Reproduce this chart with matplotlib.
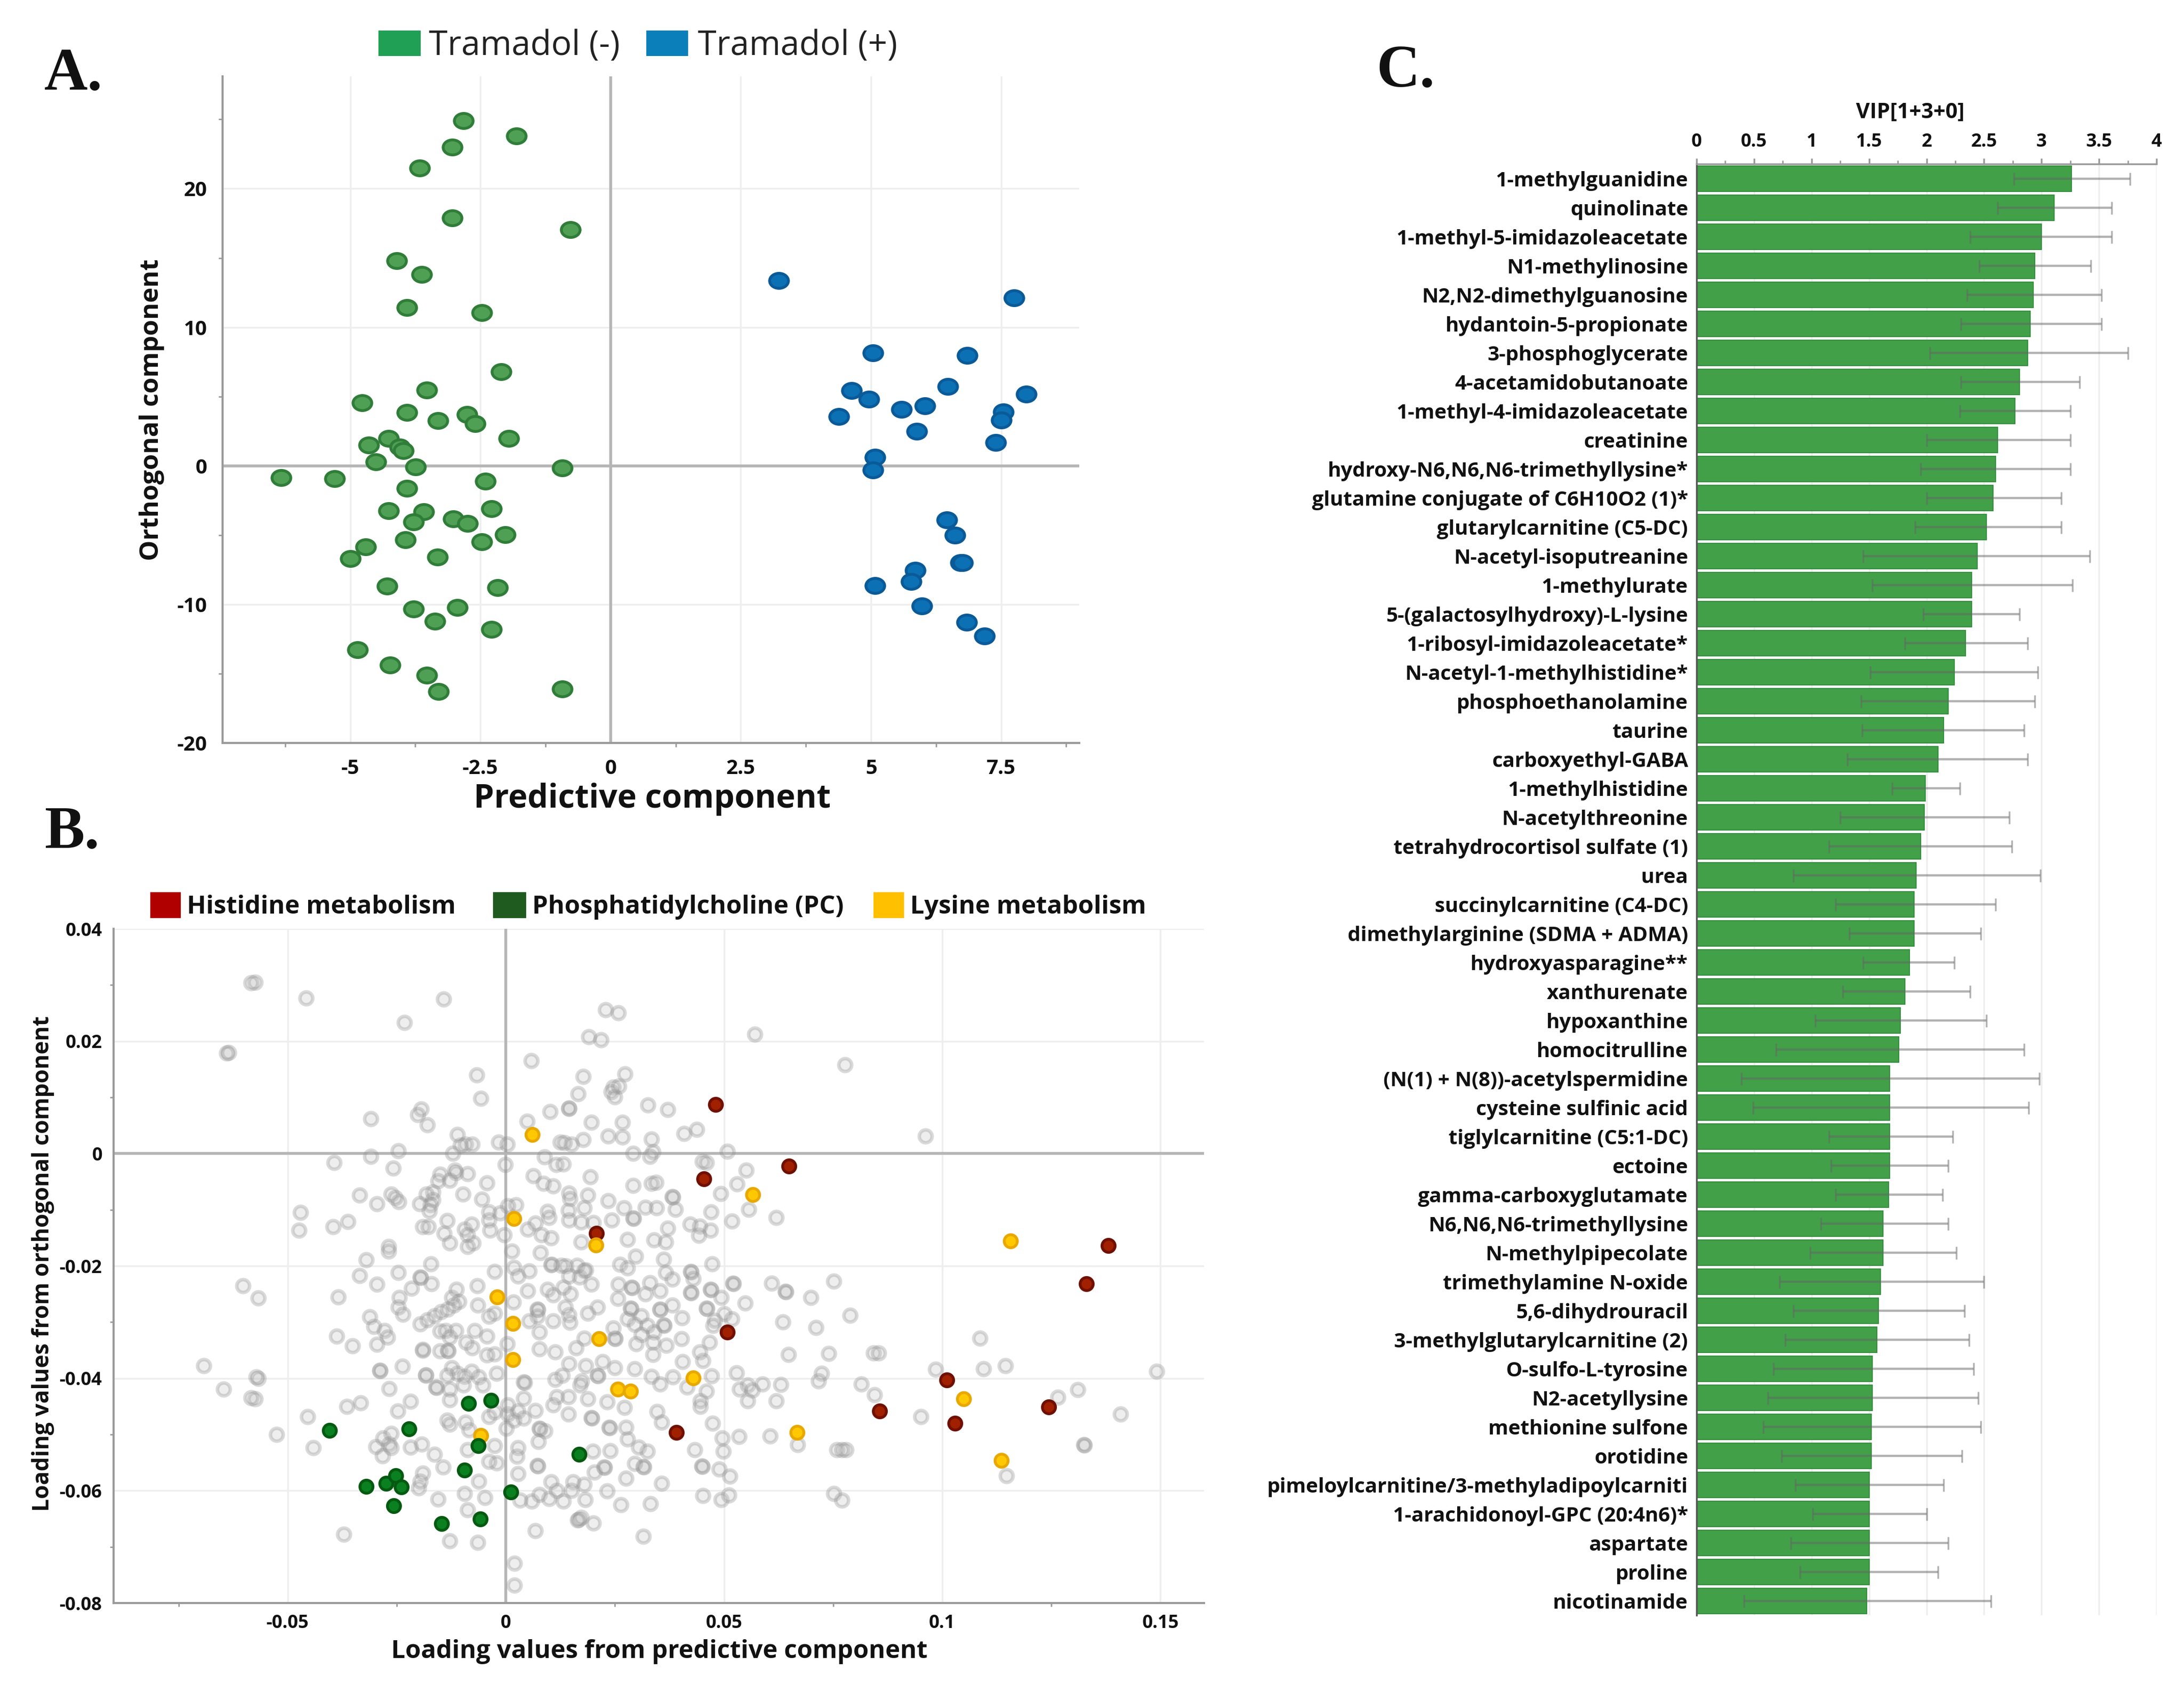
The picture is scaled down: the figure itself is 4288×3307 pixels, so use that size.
import numpy as np
import matplotlib
matplotlib.use("Agg")
import matplotlib.pyplot as plt
from matplotlib.markers import MarkerStyle
from matplotlib.patches import Rectangle
from matplotlib.ticker import MultipleLocator
from matplotlib.transforms import Affine2D

W, H = 4288, 3307

# Panel A scores
neg_x = [-2.82, -1.81, -3.04, -3.67, -3.04, -0.77, -4.11, -3.63, -3.91, -2.47, -2.10, -3.53, -4.77, -3.91, -3.31, -2.76, -2.60, -1.95, -4.26, -4.64, -4.05, -3.98, -4.51, -3.74, -0.93, -6.33, -5.30, -2.40, -3.91, -2.29, -4.26, -3.59, -3.78, -3.02, -2.75, -2.02, -3.94, -2.47, -4.70, -3.32, -5.00, -4.29, -2.17, -3.78, -2.94, -3.37, -2.29, -4.86, -4.23, -3.53, -3.30, -0.93]
neg_y = [24.9, 23.8, 23.0, 21.5, 17.9, 17.05, 14.8, 13.8, 11.4, 11.05, 6.8, 5.45, 4.55, 3.85, 3.25, 3.7, 3.05, 1.98, 1.98, 1.5, 1.35, 1.1, 0.3, -0.1, -0.15, -0.85, -0.93, -1.1, -1.63, -3.1, -3.25, -3.33, -4.07, -3.84, -4.15, -4.96, -5.35, -5.47, -5.85, -6.6, -6.7, -8.68, -8.8, -10.35, -10.23, -11.2, -11.82, -13.26, -14.38, -15.1, -16.3, -16.1]
pos_x = [3.23, 7.75, 5.04, 6.85, 4.63, 6.48, 7.98, 4.96, 5.59, 6.04, 7.54, 7.50, 4.38, 5.88, 7.40, 5.08, 5.04, 6.46, 6.61, 6.72, 6.76, 5.85, 5.77, 5.08, 5.98, 6.84, 7.18]
pos_y = [13.37, 12.13, 8.14, 7.95, 5.43, 5.74, 5.16, 4.81, 4.07, 4.34, 3.88, 3.30, 3.57, 2.48, 1.67, 0.62, -0.31, -3.91, -5.0, -6.98, -7.0, -7.56, -8.37, -8.64, -10.1, -11.3, -12.3]

# Panel B loadings, all in units of 0.001
his_x = [48.1, 64.9, 45.4, 20.7, 138, 133, 50.7, 101, 85.6, 124.4, 102.9, 39.1]
his_y = [8.7, -2.2, -4.5, -14.2, -16.4, -23.2, -31.8, -40.3, -45.8, -45.1, -48, -49.6]
lys_x = [6.1, 56.6, 1.8, 115.6, 20.6, -2, 1.6, 21.3, 1.6, 42.9, 25.6, 28.6, 104.9, 66.7, 113.5, -5.7]
lys_y = [3.4, -7.3, -11.6, -15.6, -16.3, -25.5, -30.2, -33, -36.7, -39.9, -41.9, -42.3, -43.7, -49.6, -54.6, -50.2]
pc_x = [-40.4, -22.2, -8.6, -3.4, -6.3, 16.8, -9.5, -32, -27.5, -25.2, -23.9, -25.7, 1.1, -5.9, -14.7]
pc_y = [-49.3, -49, -44.5, -43.9, -52, -53.5, -56.3, -59.2, -58.7, -57.3, -59.3, -62.7, -60.2, -65, -65.9]
other_points = [
    (-57.5, 30.5), (-45.8, 27.7), (-14.3, 27.5), (-23.2, 23.3), (5.8, 16.5), (-6.7, 14), (-5.8, 9.8), (-31, 6.2),
    (-19.4, 7.9), (-20.2, 6.9), (-18, 5.1), (-11.1, 3.4), (10.1, 7.5), (4.9, 5.7), (-1.7, 2), (0.3, 1.7),
    (-9.3, 1.7), (-7.7, 1.7), (-10.4, 1.5), (-12.2, 0), (12.5, 2), (-24.6, 0.5), (-31, -0.5), (-39.4, -1.6),
    (-25.8, -2.6), (-0.1, -2), (8.8, -0.6), (11.5, -2), (6.3, -4), (8.6, -5.3), (10.8, -5.8), (-4.4, -5.2),
    (-8.8, -3.6), (-11.5, -3.4), (-11.7, -3), (-15.1, -3.7), (-15.5, -4.9), (-12.9, -4.8), (-9.8, -7.2), (-5.5, -8.1),
    (-16.7, -6.9), (-18.2, -7.2), (-16.7, -8.2), (-19.8, -8.9), (-17.3, -9.1), (-17.5, -10.2), (-33.5, -7.4), (-29.6, -8.9),
    (-26.3, -7.2), (-24.5, -8.6), (-25.4, -7.9), (-47.1, -10.5), (-47.4, -13.7), (-39.6, -13), (-36.2, -12.1), (-19.1, -13),
    (-17.8, -13), (-13.5, -11.9), (-14.2, -14.2), (-12.9, -15.9), (-9.5, -13.5), (-7.9, -12.6), (-8.8, -14.5), (-3.9, -10.4),
    (-3.9, -11.8), (-3.7, -13.7), (-1.3, -10.6), (2.3, -9.1), (0.5, -9.3), (9.5, -10.3), (9.9, -11.4), (6.8, -12.4),
    (5, -13.5), (8.1, -14.5), (10.4, -15), (-0.4, -14.5), (-26.9, -16.6), (-7.5, -15.9), (-8.8, -16.6),
    (22.8, 25.6), (25.8, 25), (19, 20.8), (21.8, 20.2), (57, 21.2), (77.7, 15.8), (17.7, 13.7), (27.3, 14.2),
    (16.5, 10.6), (24.6, 11.8), (24.1, 11), (25, 10.1), (25.9, 12), (14.4, 8), (14.5, 8.1), (32.5, 8.6),
    (37.1, 7.8), (19.6, 5.6), (26.7, 5.6), (40.8, 3.6), (43.8, 4.3), (23.4, 3.1), (26.7, 2.9), (17.7, 2.5),
    (15, 1.7), (13.4, 1.9), (33.3, 2.6), (29.2, 0), (33.7, 0.3), (33, -0.5), (50.7, 0.4), (45, -1.4),
    (46, -1.6), (13.2, -1.9), (19.4, -4.1), (29.2, -5.7), (33.3, -5.3), (34.4, -5.1), (55.1, -3), (53, -5.4),
    (49.2, -7.1), (55.7, -9.9), (38.2, -7.7), (38.3, -7.8), (38.8, -9.9), (31.9, -9.6), (34.5, -9.7), (47, -10.4),
    (51.8, -12), (62, -11.4), (14.5, -7), (14.7, -8), (18.8, -7.4), (14.3, -10.1), (17.9, -9.7), (14.5, -11.8),
    (17.2, -12.2), (23.4, -8.4), (27, -9.7), (24.3, -11.8), (29.2, -11.5), (29.3, -11.6), (20.1, -12.3), (37.1, -13.3),
    (42.2, -12.6), (44.4, -12.9), (46.9, -13.7), (44.2, -14.6), (27.9, -15.3), (17.2, -15.7), (33.9, -15.4), (36.6, -15.7),
    (-56.8, -25.7), (-38.4, -25.5), (-32, -18.9), (-33.5, -21.7), (-29.5, -23.3), (-24.6, -21.2), (-17.2, -19.6), (-26.9, -17.4),
    (-19.6, -22), (-19.5, -22.1), (-17.1, -23.2), (-21.6, -24), (-24.4, -25.6), (-24.6, -27.3), (-23.6, -28.6), (-31.2, -29.1),
    (-30.2, -30.8), (-27.8, -31.5), (-27.1, -32.7), (-29.5, -34), (-38.8, -32.5), (-35.2, -34.2), (-56.8, -40), (-57.5, -43.7),
    (-28.9, -38.7), (-28.8, -38.6), (-23.7, -37.9), (-19.1, -34.9), (-19, -35), (-18.4, -39.5), (-18.3, -39.4), (-16, -41.6),
    (-15.9, -41.7), (-26.8, -41.8), (-33.3, -44.4), (-36.4, -45), (-21.8, -44.1), (-24.8, -45.8), (-45.4, -46.8), (-52.6, -50),
    (-44.2, -52.4), (-19.6, -30.3), (-18, -29.6), (-16.4, -28.9), (-14.9, -28.2), (-13.3, -27.7), (-12.4, -25.6), (-11.3, -24.2),
    (-10.8, -26.3), (-11.9, -27), (-6.6, -23.5), (-6.4, -27), (-2.6, -21), (-2.6, -28.4), (-3.9, -29), (1.7, -26.4),
    (1.4, -17.4), (1.9, -20.3), (2.8, -21.8), (5.4, -20.9), (5, -24.4), (7.9, -17.6), (10.4, -19.8), (10.5, -19.7),
    (-15.1, -31.6), (-13.8, -31.5), (-11.5, -31.5), (-12.9, -32.7), (-7.1, -31.5), (-15.1, -35.1), (-13.3, -35), (-13.2, -35.1),
    (-7.7, -34.6), (-9.1, -33.6), (-4.4, -32.5), (0.3, -33.9), (-2.6, -35.7), (-4.4, -35.9), (-12.4, -38.1), (-11.1, -39.1),
    (-13.5, -39.5), (-9.5, -39.7), (-7.9, -38.8), (-6.2, -39.8), (-2.1, -39.1), (-9.7, -41.2), (-5.3, -41.2), (-12.9, -43.8),
    (-12.9, -41.9), (4.1, -40.7), (4.3, -40.8), (7.2, -27.7), (7.3, -27.8), (7.2, -29), (7.7, -31.8), (5.4, -29.8),
    (10.8, -29.8), (9.5, -24.2), (10.8, -25.2), (11.3, -35.3), (7.7, -34.8), (11.3, -40.2), (11.7, -43.3), (10.8, -44.7),
    (-13.5, -47.5), (-12.9, -48.2), (-9.3, -47.8), (-8.4, -49.2), (-8.8, -52.7), (-3.9, -46.8), (-2.6, -46), (0.5, -46.4),
    (1.9, -47.5), (2.8, -45.8), (4.1, -43.6), (0.5, -44.7), (0.1, -48.9), (4.1, -47.1), (6.8, -45.7), (7.7, -48.9),
    (7.8, -49), (9, -49.4), (7.5, -51.3), (2.8, -52.4), (2.5, -53.9), (7.2, -55.5), (7.3, -55.6), (2.8, -57),
    (-2.6, -52), (-2.1, -55.1), (-3.9, -54.8), (-6.2, -58.3), (-29.8, -52.2), (-28.2, -50.6), (-26.3, -49.8), (-26.8, -51.7),
    (-28.3, -53.8), (-26.3, -52.4), (-21.8, -52.3), (-19.3, -51.7), (-16.4, -53.5), (-14.4, -55.8), (-19.1, -56.9), (-20, -59.5),
    (-19.6, -58.3), (-15.5, -61.5), (-9.5, -60.5), (-4.8, -61.2), (-8.8, -63.4), (-37.2, -67.8), (-12.9, -68.9), (-6.4, -69.2),
    (6.8, -67.1), (5.9, -61.9), (7.7, -60.7), (10.4, -58.4), (9.9, -61.4), (11.7, -60), (3.2, -61.7),
    (29.7, -18.3), (36.2, -18.8), (47.2, -19.6), (26.1, -19.7), (27.9, -20.4), (36.6, -21.2), (38.2, -22.4), (42.4, -21),
    (42.5, -21.1), (42.9, -22.3), (25.8, -23.3), (28.8, -23.8), (28.9, -23.9), (33, -23), (35.3, -24.4), (31.9, -25),
    (42.4, -24.7), (42.5, -24.8), (46.9, -24.2), (47, -24.3), (49.3, -25.6), (52, -23.1), (52.1, -23.2), (60.9, -23.1),
    (64.1, -24.5), (64.2, -24.6), (69.9, -25.6), (75.1, -22.7), (54.8, -26.6), (46, -27.5), (46.1, -27.6), (50, -28.5),
    (47.8, -29.7), (51.8, -29.4), (47.5, -30.6), (78.9, -28.8), (63.5, -30), (71.1, -31), (64.8, -35.8), (74, -35.6),
    (35.3, -27.7), (35.4, -27.8), (38.2, -27), (40.4, -29.2), (28.6, -27.5), (28.7, -27.6), (25.7, -25.8), (27.9, -29.4),
    (31, -28.9), (29.5, -30.4), (36.2, -30.5), (36.3, -30.6), (32.4, -30.6), (33.9, -31.8), (31, -32.2), (29.9, -33.9),
    (33.7, -33.6), (33.7, -35.8), (36.8, -34.1), (40.2, -33), (46.7, -33.6), (44.4, -35.3), (45.1, -36.9), (40.5, -37),
    (38.3, -39.8), (47.1, -39.6), (52.9, -39), (53.6, -41.9), (55.4, -41.2), (56.5, -42.1), (55.4, -44), (58.8, -41),
    (63, -41.1), (62, -44), (72.3, -39.1), (71.7, -40.5), (81.5, -41), (33.3, -39.7), (35.3, -41), (41.5, -41.6),
    (46, -42.3), (44.6, -44), (44.6, -45), (34.6, -45.9), (35.7, -47.8), (47.4, -48), (49.6, -50.6), (53.4, -50.4),
    (60.6, -50.3), (66.9, -51.8), (75.9, -52.7), (77.9, -52.7), (77, -52.7), (43.3, -52.7), (49.8, -53), (44.9, -55.6),
    (45, -55.7), (48.9, -56.2), (51.3, -57.4), (75.1, -60.5), (77, -61.7), (45.1, -60.9), (49.3, -61.6), (51.1, -60.8),
    (35.7, -58.7), (27.5, -57.8), (23.2, -60.1), (26.3, -62.5), (33.1, -62.3), (16.7, -65.1), (20, -65.8), (31.5, -68.1),
    (15.4, -58.4), (17.9, -58.9), (15, -60), (18.2, -61.6), (13.2, -61.9), (22.5, -55.8), (22.6, -55.9), (19.9, -53),
    (23.9, -52.9), (20.3, -56.7), (31.5, -55.7), (31.6, -55.8), (27.9, -50.8), (30.4, -52.3), (32.4, -53), (29.5, -55.2),
    (23.7, -48.7), (23.8, -48.8), (27.5, -48.7), (19.6, -47), (19.7, -47.1), (14.3, -46.4), (27.2, -45.2), (23.2, -44.2),
    (25, -32.9), (25.1, -33), (24.6, -31.1), (17.9, -32.9), (16.1, -34.6), (21, -27.3), (18.8, -28.4), (14.5, -28.7),
    (14.7, -30.1), (13.6, -27.3), (16.9, -22), (19.6, -23.3), (18.3, -20.7), (13.8, -20), (14.8, -25), (13.2, -23.8),
    (18.3, -37.8), (21, -39.5), (21.1, -39.6), (22.1, -37), (25, -38.1), (29.5, -38.3), (17.4, -40.5), (17, -41.2),
    (14.3, -43.3), (18.8, -43.7), (14.5, -37.4), (12.9, -39.5), (12.7, -19.9), (16.3, -19.9), (18, -20.8), (14.5, -21.8),
    (96.1, 3.1), (84.2, -35.5), (85.4, -35.5), (108.6, -32.9), (98.5, -38.4), (84.5, -42.9), (109.5, -38.3), (114.5, -37.8),
    (126.5, -43.4), (131, -42), (149.2, -38.8), (140.8, -46.4), (95.1, -46.8), (132.4, -51.8), (132.6, -51.9), (114.7, -57.3),
    (-69.2, -37.8), (-64.7, -41.9), (-57.2, -39.8), (-58.4, -43.5), (-60.2, -23.5), (-64, 17.9), (-63.5, 18), (-58.4, 30.4),
    (2, -72.9), (2, -76.8), (16.4, -65.2), (17.2, -64.8),
]

# Panel C VIP
metabolites = [
    "1-methylguanidine", "quinolinate", "1-methyl-5-imidazoleacetate", "N1-methylinosine", "N2,N2-dimethylguanosine",
    "hydantoin-5-propionate", "3-phosphoglycerate", "4-acetamidobutanoate", "1-methyl-4-imidazoleacetate", "creatinine",
    "hydroxy-N6,N6,N6-trimethyllysine*", "glutamine conjugate of C6H10O2 (1)*", "glutarylcarnitine (C5-DC)",
    "N-acetyl-isoputreanine", "1-methylurate", "5-(galactosylhydroxy)-L-lysine", "1-ribosyl-imidazoleacetate*",
    "N-acetyl-1-methylhistidine*", "phosphoethanolamine", "taurine", "carboxyethyl-GABA", "1-methylhistidine",
    "N-acetylthreonine", "tetrahydrocortisol sulfate (1)", "urea", "succinylcarnitine (C4-DC)",
    "dimethylarginine (SDMA + ADMA)", "hydroxyasparagine**", "xanthurenate", "hypoxanthine", "homocitrulline",
    "(N(1) + N(8))-acetylspermidine", "cysteine sulfinic acid", "tiglylcarnitine (C5:1-DC)", "ectoine",
    "gamma-carboxyglutamate", "N6,N6,N6-trimethyllysine", "N-methylpipecolate", "trimethylamine N-oxide",
    "5,6-dihydrouracil", "3-methylglutarylcarnitine (2)", "O-sulfo-L-tyrosine", "N2-acetyllysine", "methionine sulfone",
    "orotidine", "pimeloylcarnitine/3-methyladipoylcarniti", "1-arachidonoyl-GPC (20:4n6)*", "aspartate", "proline",
    "nicotinamide",
]
vip = [3.26, 3.11, 3.0, 2.94, 2.93, 2.90, 2.88, 2.81, 2.77, 2.62, 2.60, 2.58, 2.52, 2.44, 2.39, 2.39, 2.34, 2.24, 2.19, 2.15, 2.10, 1.99, 1.98, 1.95, 1.91, 1.89, 1.89, 1.85, 1.81, 1.77, 1.76, 1.68, 1.68, 1.68, 1.68, 1.67, 1.62, 1.62, 1.60, 1.58, 1.57, 1.53, 1.53, 1.52, 1.52, 1.50, 1.50, 1.50, 1.50, 1.48]
vip_low = [2.76, 2.62, 2.38, 2.46, 2.35, 2.30, 2.03, 2.30, 2.29, 2.0, 1.95, 2.0, 1.90, 1.45, 1.53, 1.97, 1.81, 1.51, 1.43, 1.44, 1.31, 1.70, 1.25, 1.15, 0.84, 1.21, 1.33, 1.45, 1.27, 1.03, 0.69, 0.39, 0.49, 1.15, 1.17, 1.21, 1.08, 0.99, 0.72, 0.84, 0.77, 0.67, 0.62, 0.58, 0.74, 0.86, 1.01, 0.82, 0.90, 0.41]
vip_high = [3.77, 3.61, 3.61, 3.43, 3.52, 3.52, 3.75, 3.33, 3.25, 3.25, 3.25, 3.17, 3.17, 3.42, 3.27, 2.81, 2.88, 2.97, 2.94, 2.85, 2.88, 2.29, 2.72, 2.74, 2.99, 2.60, 2.47, 2.24, 2.38, 2.52, 2.85, 2.98, 2.89, 2.23, 2.19, 2.14, 2.19, 2.26, 2.50, 2.33, 2.37, 2.41, 2.45, 2.47, 2.31, 2.15, 2.00, 2.19, 2.10, 2.56]

plt.rcParams["font.family"] = ["Open Sans", "DejaVu Sans"]


def axes_px(x0, y0, x1, y1):
    # pixel box measured from the top left of the picture
    return fig.add_axes([x0 / W, 1 - y1 / H, (x1 - x0) / W, (y1 - y0) / H])


def legend_box(x0, y0, x1, y1, color):
    fig.add_artist(Rectangle((x0 / W, 1 - y1 / H), (x1 - x0) / W, (y1 - y0) / H,
                             transform=fig.transFigure, color=color, lw=0))


def fig_text(x, y, s, **kw):
    fig.text(x / W, 1 - y / H, s, **kw)


def style_scatter_axes(ax):
    for side in ["top", "right"]:
        ax.spines[side].set_visible(False)
    for side in ["left", "bottom"]:
        ax.spines[side].set_color("#9a9a9a")
        ax.spines[side].set_linewidth(3)
    ax.grid(True, color="#eeeeee", lw=2.5)
    ax.set_axisbelow(True)
    ax.axhline(0, color="#b5b5b5", lw=4, zorder=1)
    ax.axvline(0, color="#b5b5b5", lw=4, zorder=1)


fig = plt.figure(figsize=(W / 100, H / 100), dpi=100)

# A
ax = axes_px(437, 150, 2119, 1459)
ell = MarkerStyle("o", transform=Affine2D().scale(1.25, 1))
ax.scatter(neg_x, neg_y, s=450, marker=ell, c="#4f9f54", edgecolors="#2f7d38", linewidths=4, zorder=3)
ax.scatter(pos_x, pos_y, s=450, marker=ell, c="#0c70b4", edgecolors="#0a5a98", linewidths=4, zorder=3)
ax.set_xlim(-7.45, 9.0)
ax.set_ylim(-20, 28.1)
ax.set_xticks([-5, -2.5, 0, 2.5, 5, 7.5])
ax.set_xticklabels(["-5", "-2.5", "0", "2.5", "5", "7.5"])
ax.set_yticks([-20, -10, 0, 10, 20])
ax.set_yticklabels(["-20", "-10", "0", "10", "20"])
ax.xaxis.set_minor_locator(MultipleLocator(1.25))
ax.yaxis.set_minor_locator(MultipleLocator(5))
style_scatter_axes(ax)
ax.tick_params(axis="both", which="major", length=0, labelsize=29, pad=22, labelcolor="#111111")
ax.tick_params(axis="both", which="minor", length=6, width=2, color="#9a9a9a")
for t in ax.get_xticklabels() + ax.get_yticklabels():
    t.set_fontweight("bold")
fig_text(1281, 1570, "Predictive component", ha="center", va="center", fontsize=46, fontweight="bold", color="#111111")
fig_text(298, 805, "Orthogonal component", ha="center", va="center", rotation=90, fontsize=36.5, fontweight="bold", color="#111111")

legend_box(743, 60, 826, 110, "#1fa055")
fig_text(842, 90, "Tramadol (-)", va="center", fontsize=48, color="#222222")
legend_box(1269, 60, 1351, 110, "#0a7fba")
fig_text(1370, 90, "Tramadol (+)", va="center", fontsize=48, color="#222222")

# B
ax = axes_px(223, 1824, 2364, 3148)
other = np.array(other_points) / 1000
ax.scatter(other[:, 0], other[:, 1], s=330, facecolors=(0.72, 0.72, 0.72, 0.24),
           edgecolors=(0.55, 0.55, 0.55, 0.32), linewidths=5, zorder=2)
ax.scatter(np.array(his_x) / 1000, np.array(his_y) / 1000, s=340, c="#a02000", edgecolors="#701000", linewidths=4, zorder=4)
ax.scatter(np.array(lys_x) / 1000, np.array(lys_y) / 1000, s=340, c="#ffc800", edgecolors="#e8a800", linewidths=4, zorder=4)
ax.scatter(np.array(pc_x) / 1000, np.array(pc_y) / 1000, s=340, c="#0a8020", edgecolors="#045a10", linewidths=4, zorder=4)
ax.set_xlim(-0.0899, 0.160)
ax.set_ylim(-0.08, 0.04)
ax.set_xticks([-0.05, 0, 0.05, 0.1, 0.15])
ax.set_xticklabels(["-0.05", "0", "0.05", "0.1", "0.15"])
ax.set_yticks([-0.08, -0.06, -0.04, -0.02, 0, 0.02, 0.04])
ax.set_yticklabels(["-0.08", "-0.06", "-0.04", "-0.02", "0", "0.02", "0.04"])
ax.xaxis.set_minor_locator(MultipleLocator(0.025))
ax.yaxis.set_minor_locator(MultipleLocator(0.01))
style_scatter_axes(ax)
ax.tick_params(axis="both", which="major", length=0, labelsize=26, pad=16, labelcolor="#111111")
ax.tick_params(axis="both", which="minor", length=5, width=2, color="#9a9a9a")
for t in ax.get_xticklabels() + ax.get_yticklabels():
    t.set_fontweight("bold")
fig_text(1295, 3243, "Loading values from predictive component", ha="center", va="center", fontsize=35.5, fontweight="bold", color="#111111")
fig_text(85, 2482, "Loading values from orthogonal component", ha="center", va="center", rotation=90, fontsize=32, fontweight="bold", color="#111111")

legend_box(295, 1752, 355, 1803, "#b00000")
fig_text(367, 1781, "Histidine metabolism", va="center", fontsize=35.5, fontweight="bold", color="#111111")
legend_box(968, 1752, 1033, 1803, "#1f5a1f")
fig_text(1045, 1781, "Phosphatidylcholine (PC)", va="center", fontsize=35.5, fontweight="bold", color="#111111")
legend_box(1715, 1752, 1775, 1803, "#ffc000")
fig_text(1787, 1781, "Lysine metabolism", va="center", fontsize=35.5, fontweight="bold", color="#111111")

# C
ax = axes_px(3331, 322, 4234, 3172)
pos = np.arange(len(metabolites))
vip_arr = np.array(vip)
ax.barh(pos, vip_arr, height=0.88, color="#41a048", edgecolor="#378f40", linewidth=1.5, zorder=2)
ax.errorbar(vip_arr, pos, xerr=[vip_arr - np.array(vip_low), np.array(vip_high) - vip_arr], fmt="none",
            ecolor=(0.4, 0.4, 0.4, 0.5), elinewidth=3.2, capsize=9, capthick=2.5, zorder=3)
ax.set_xlim(0, 4)
ax.set_ylim(49.49, -0.51)
ax.xaxis.tick_top()
ax.xaxis.set_label_position("top")
ax.set_xticks([0, 0.5, 1, 1.5, 2, 2.5, 3, 3.5, 4])
ax.set_xticklabels(["0", "0.5", "1", "1.5", "2", "2.5", "3", "3.5", "4"], fontweight="bold", color="#111111")
ax.xaxis.set_minor_locator(MultipleLocator(0.25))
ax.set_yticks(pos)
ax.set_yticklabels(metabolites, fontweight="bold", color="#111111")
ax.grid(True, axis="x", color="#eeeeee", lw=2.5)
ax.set_axisbelow(True)
for side in ["right", "bottom"]:
    ax.spines[side].set_visible(False)
ax.spines["top"].set_color("#9a9a9a")
ax.spines["top"].set_linewidth(2.5)
ax.spines["left"].set_color("#555555")
ax.spines["left"].set_linewidth(2.5)
ax.tick_params(axis="y", length=0, labelsize=29, pad=12)
ax.tick_params(axis="x", which="major", length=8, width=2.5, color="#9a9a9a", labelsize=26, pad=10)
ax.tick_params(axis="x", which="minor", length=5, width=2, color="#9a9a9a")
fig_text(3750, 222, "VIP[1+3+0]", ha="center", va="center", fontsize=30, fontweight="bold", color="#111111")

# panel letters
for x, y, letter in [(87, 176, "A."), (87, 1665, "B."), (2702, 170, "C.")]:
    fig_text(x, y, letter, ha="left", va="baseline", fontsize=85, fontweight="bold",
             family="Liberation Serif", color="#111111")

fig.savefig("out.png", dpi=100, facecolor="white")
